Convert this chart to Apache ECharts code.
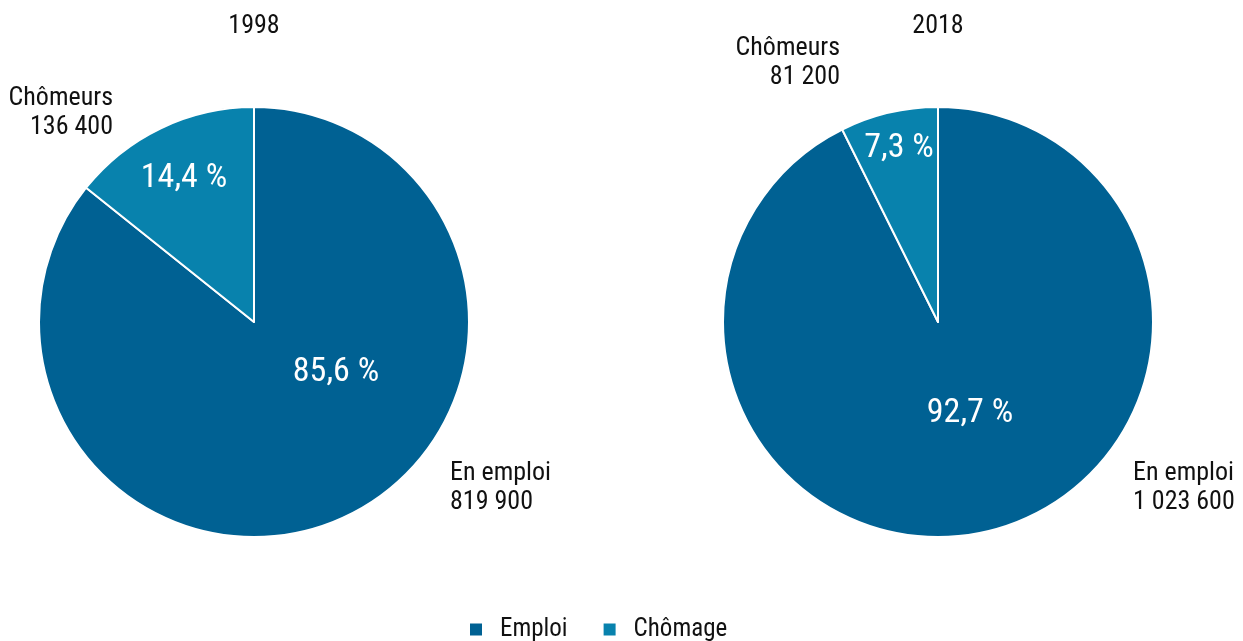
<!DOCTYPE html>
<html><head><meta charset="utf-8">
<script src="https://cdn.jsdelivr.net/npm/echarts@6/dist/echarts.min.js"></script>
<style>html,body{margin:0;padding:0;background:#fff}#c{width:1243px;height:641px}</style>
</head><body><div id="c"></div>
<script>
// Data
const years = ['1998', '2018'];
const legendNames = ['Emploi', 'Chômage'];
const labelNames = ['En emploi', 'Chômeurs'];
const values1998 = [819900, 136400];
const values2018 = [1023600, 81200];
const pct1998 = ['85,6 %', '14,4 %'];
const pct2018 = ['92,7 %', '7,3 %'];

const FONT = '"Liberation Sans Narrow", "Roboto Condensed", "DejaVu Sans Condensed", sans-serif';
const colors = ['#006193', '#0882AD'];

function fmt(v) { return String(v).replace(/\B(?=(\d{3})+(?!\d))/g, ' '); }

// label positions (layout only)
const insidePos = [
  [[336, 372], [184, 178]],
  [[970, 413], [899, 148]]
];
const outsidePos = [
  [[450, 488, 'left'], [113, 113, 'right']],
  [[1133, 488, 'left'], [840, 63, 'right']]
];
const centers = [[254, 322], [938, 322]];

const allValues = [values1998, values2018];
const allPct = [pct1998, pct2018];

const series = [];
for (let p = 0; p < 2; p++) {
  const data = legendNames.map((n, i) => ({ name: n, value: allValues[p][i] }));
  series.push({
    type: 'pie', center: centers[p], radius: [0, 215],
    startAngle: 90, clockwise: true, animation: false, silent: true,
    itemStyle: { borderColor: '#fff', borderWidth: 2 },
    label: { position: 'inside', color: '#fff', fontFamily: FONT, fontSize: 34,
      formatter: (pp) => allPct[p][pp.dataIndex] },
    labelLine: { show: false },
    labelLayout: (pp) => ({ x: insidePos[p][pp.dataIndex][0], y: insidePos[p][pp.dataIndex][1], align: 'center', verticalAlign: 'middle' }),
    data: data
  });
  series.push({
    type: 'pie', center: centers[p], radius: [0, 215],
    startAngle: 90, clockwise: true, animation: false, silent: true,
    itemStyle: { color: 'rgba(0,0,0,0)', borderWidth: 0 },
    label: { position: 'outside', color: '#111', fontFamily: FONT, fontSize: 26, lineHeight: 29,
      formatter: (pp) => labelNames[pp.dataIndex] + '\n' + fmt(pp.value) },
    labelLine: { show: false },
    labelLayout: (pp) => { const q = outsidePos[p][pp.dataIndex]; return { x: q[0], y: q[1], align: q[2], verticalAlign: 'middle' }; },
    data: data
  });
}

const chart = echarts.init(document.getElementById('c'), null, { renderer: 'canvas' });
chart.setOption({
  color: colors,
  animation: false,
  title: [
    { text: years[0], left: 249, top: 8, textAlign: 'center', textStyle: { fontFamily: FONT, fontSize: 26, fontWeight: 'normal', color: '#111' } },
    { text: years[1], left: 933, top: 8, textAlign: 'center', textStyle: { fontFamily: FONT, fontSize: 26, fontWeight: 'normal', color: '#111' } }
  ],
  legend: {
    data: legendNames, top: 612, left: 463, icon: 'rect', itemWidth: 14, itemHeight: 14, itemGap: 34,
    textStyle: { fontFamily: FONT, fontSize: 25, color: '#111', padding: [0, 0, 0, 12] }
  },
  series: series
});
</script></body></html>
